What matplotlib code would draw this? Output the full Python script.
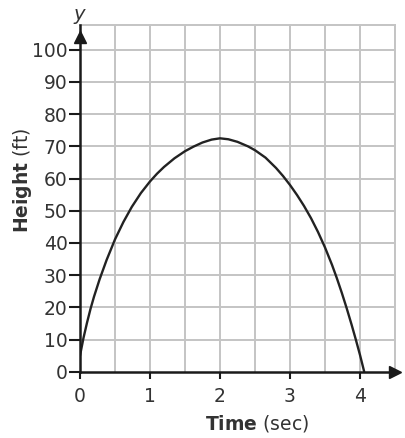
import numpy as np
import matplotlib.pyplot as plt

# values
time = [0, 0.05, 0.1, 0.15, 0.2, 0.28, 0.38, 0.5, 0.62, 0.74, 0.87, 1.0, 1.1, 1.2, 1.35,
        1.5, 1.62, 1.75, 1.88, 2.0, 2.12, 2.25, 2.4, 2.5, 2.65, 2.8, 2.9, 3.0, 3.1, 3.2,
        3.3, 3.4, 3.5, 3.6, 3.67, 3.74, 3.81, 3.88, 3.94, 4.0, 4.06]
height = [5.0, 10.5, 15.2, 19.5, 23.3, 28.7, 34.7, 41.1, 46.5, 51.2, 55.5, 59.1, 61.5, 63.6, 66.3,
          68.5, 69.9, 71.2, 72.1, 72.5, 72.2, 71.4, 70.0, 68.8, 66.5, 63.3, 60.8, 58.0, 54.9, 51.5,
          47.7, 43.4, 38.6, 33.2, 29.0, 24.5, 19.7, 14.6, 10.0, 5.2, 0]
x_ticks = [0, 1, 2, 3, 4]
y_ticks = list(range(0, 101, 10))

fig = plt.figure(figsize=(4.06, 4.38), dpi=100)
ax = fig.add_axes([80/406, 1 - 371.7/438, 315/406, (371.7 - 25)/438])

ax.set_xlim(0, 4.5)
ax.set_ylim(0, 107.7)

grid_col = '#c4c4c4'
for gx in np.arange(0.5, 4.51, 0.5):
    ax.axvline(gx, color=grid_col, lw=1.4, zorder=1)
for gy in range(10, 101, 10):
    ax.axhline(gy, color=grid_col, lw=1.4, zorder=1)

ax.plot(time, height, color='#222222', lw=1.7, zorder=3,
        solid_joinstyle='round', solid_capstyle='round')

for s in ['top', 'right']:
    ax.spines[s].set_color(grid_col)
    ax.spines[s].set_linewidth(1.4)
for s in ['left', 'bottom']:
    ax.spines[s].set_color('#1a1a1a')
    ax.spines[s].set_linewidth(1.8)
    ax.spines[s].set_zorder(4)

ax.set_xticks(x_ticks)
ax.set_yticks(y_ticks)
ax.tick_params(axis='x', length=5, width=1.5, pad=6, labelsize=13.5,
               colors='#1a1a1a', labelcolor='#333333')
ax.tick_params(axis='y', length=8, width=1.5, pad=1, labelsize=13.5,
               colors='#1a1a1a', labelcolor='#333333')

# arrow heads on the axes
ax.plot(1, 0, '>', color='#1a1a1a', ms=8, transform=ax.transAxes, clip_on=False, zorder=5)
ax.plot(0, 0.965, '^', color='#1a1a1a', ms=8, transform=ax.transAxes, clip_on=False, zorder=5)

fig.text(257/406, 1 - 423/438, r'$\mathbf{Time}$ (sec)', ha='center', va='center',
         fontsize=13.5, color='#333333')
fig.text(22/406, 1 - 180/438, r'$\mathbf{Height}$ (ft)', ha='center', va='center',
         rotation=90, fontsize=13.5, color='#333333')
fig.text(79/406, 1 - 15/438, 'y', style='italic', ha='center', va='center',
         fontsize=14, color='#333333')

fig.savefig('out.png', dpi=100)
